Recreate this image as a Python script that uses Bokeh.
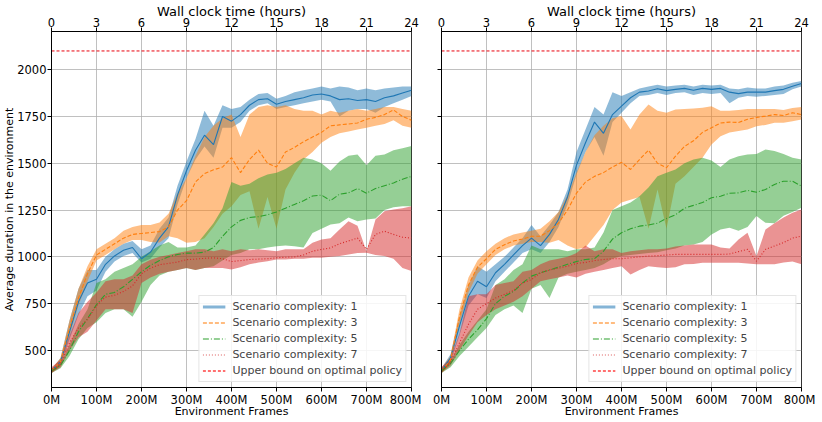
from bokeh.plotting import figure
from bokeh.models import (Range1d, LinearAxis, FixedTicker, PrintfTickFormatter,
                          Legend, LegendItem)
from bokeh.layouts import row
from bokeh.embed import file_html
from bokeh.resources import INLINE

# ---------------- data ----------------
frames_m = list(range(0, 801, 20))          # environment frames, millions
frame_ticks = [0, 100, 200, 300, 400, 500, 600, 700, 800]
hour_ticks = [0, 3, 6, 9, 12, 15, 18, 21, 24]
y_ticks = [500, 750, 1000, 1250, 1500, 1750, 2000]
upper_bound = 2100
series_labels = ["Scenario complexity: 1", "Scenario complexity: 3",
                 "Scenario complexity: 5", "Scenario complexity: 7"]
bound_label = "Upper bound on optimal policy"

# left panel
L_c1_mean = [390,440,600,760,860,880,960,1005,1035,1050,990,1025,1100,1160,1330,1460,1570,1650,1600,1750,1725,1760,1810,1840,1845,1815,1830,1840,1850,1865,1870,1860,1840,1845,1835,1840,1830,1850,1860,1875,1890]
L_c1_lo = [380,420,560,690,790,820,920,975,1005,1020,970,990,1050,1100,1280,1420,1520,1590,1530,1690,1690,1720,1780,1810,1820,1790,1800,1810,1820,1830,1840,1830,1750,1780,1790,1790,1770,1800,1820,1840,1860]
L_c1_hi = [400,460,660,830,930,930,1000,1040,1070,1085,1040,1060,1150,1210,1380,1510,1630,1780,1700,1810,1790,1800,1840,1870,1875,1845,1860,1880,1890,1900,1910,1900,1910,1905,1890,1900,1890,1900,1905,1910,1910]

L_c3_mean = [390,440,620,780,910,1010,1040,1070,1100,1120,1125,1130,1135,1160,1250,1300,1400,1445,1465,1480,1530,1450,1520,1570,1500,1480,1560,1585,1615,1640,1665,1700,1705,1710,1715,1735,1745,1760,1785,1750,1730]
L_c3_lo = [380,420,580,740,870,980,1010,1040,1070,1090,1090,1080,1077,1110,1100,1075,1080,1100,1160,1230,1270,1330,1350,1150,1320,1150,1360,1450,1520,1560,1610,1640,1660,1670,1680,1690,1700,1710,1730,1700,1690]
L_c3_hi = [400,460,660,830,950,1040,1070,1100,1140,1160,1170,1170,1184,1230,1340,1420,1540,1640,1700,1740,1760,1640,1760,1800,1810,1800,1810,1790,1780,1780,1760,1780,1770,1780,1790,1780,1790,1800,1800,1790,1780]

L_c5_mean = [390,420,500,600,670,745,800,810,840,880,920,955,980,1000,1013,1020,1020,1025,1050,1110,1160,1195,1210,1215,1225,1240,1260,1280,1300,1325,1330,1300,1335,1342,1365,1340,1365,1380,1395,1415,1430]
L_c5_lo = [380,405,470,560,620,650,700,720,720,680,760,850,900,920,930,940,930,940,950,980,1010,1020,1040,1040,1050,1057,1060,1057,1050,1128,1150,1173,1180,1210,1190,1200,1205,1250,1265,1271,1271]
L_c5_hi = [400,430,530,640,720,860,880,920,940,960,1000,1030,1060,1080,1050,1050,1060,1120,1180,1260,1400,1380,1390,1420,1440,1450,1470,1500,1530,1520,1500,1460,1510,1540,1547,1490,1540,1547,1570,1580,1592]

L_c7_mean = [390,430,540,620,665,740,785,795,815,845,910,940,958,965,972,985,988,992,995,990,975,980,986,988,990,995,998,1000,1010,1030,1040,1048,1070,1085,1100,1040,1120,1137,1120,1105,1100]
L_c7_lo = [380,410,500,570,600,660,720,720,720,700,860,890,910,920,930,940,930,940,940,940,933,945,960,970,977,986,986,990,990,995,995,1000,1005,1013,1020,1022,1010,1004,990,940,925]
L_c7_hi = [410,450,580,700,760,810,870,880,880,900,960,985,1000,1010,1020,1030,1040,1040,1030,1040,1030,1040,1035,1040,1035,1030,1040,1040,1040,1075,1093,1100,1146,1190,1166,1030,1200,1244,1253,1260,1270]

# right panel
R_c1_mean = [390,460,630,790,870,840,915,960,1010,1060,1100,1060,1120,1200,1320,1490,1610,1720,1660,1760,1805,1850,1880,1886,1898,1888,1895,1900,1890,1900,1895,1900,1880,1872,1880,1880,1880,1888,1895,1912,1926]
R_c1_lo = [380,440,580,740,800,780,870,920,970,1020,1040,1020,1080,1160,1280,1440,1560,1640,1540,1720,1770,1820,1860,1865,1875,1865,1875,1880,1865,1875,1870,1875,1820,1850,1860,1855,1860,1865,1870,1895,1910]
R_c1_hi = [405,480,680,850,950,920,960,1000,1050,1100,1170,1110,1170,1240,1360,1560,1680,1800,1760,1880,1860,1880,1900,1910,1920,1910,1915,1920,1910,1920,1915,1920,1900,1895,1905,1900,1900,1910,1915,1930,1940]

R_c3_mean = [390,450,680,850,945,990,1040,1065,1085,1095,1110,1110,1140,1180,1250,1340,1400,1430,1450,1480,1505,1467,1520,1570,1500,1476,1538,1590,1620,1665,1690,1715,1720,1718,1735,1745,1752,1760,1755,1770,1760]
R_c3_lo = [380,430,640,810,910,960,1010,1040,1060,1070,1080,1080,1075,1090,1060,1040,1050,1110,1170,1250,1290,1305,1320,1150,1360,1150,1390,1430,1480,1530,1600,1645,1665,1672,1680,1698,1705,1716,1716,1725,1734]
R_c3_hi = [405,470,720,890,980,1030,1070,1100,1120,1130,1140,1150,1190,1240,1330,1450,1560,1650,1700,1740,1752,1680,1761,1814,1780,1770,1787,1790,1792,1796,1805,1780,1780,1785,1790,1790,1790,1790,1785,1795,1800]

R_c5_mean = [390,430,500,560,610,670,750,790,815,860,897,915,930,945,960,975,986,990,1030,1095,1129,1150,1164,1170,1180,1205,1225,1260,1275,1290,1316,1324,1340,1342,1355,1345,1360,1387,1404,1404,1378]
R_c5_lo = [380,410,470,520,570,620,690,720,740,700,830,850,780,890,910,920,930,940,960,990,1004,1010,1015,1020,1025,1035,1045,1060,1066,1080,1120,1146,1155,1140,1160,1218,1182,1180,1220,1240,1262]
R_c5_hi = [400,445,530,600,660,720,850,880,930,960,1060,1040,1040,1040,1030,1040,1040,1050,1130,1250,1271,1290,1324,1370,1430,1450,1467,1500,1520,1530,1515,1480,1520,1538,1547,1550,1574,1565,1550,1530,1520]

R_c7_mean = [390,440,540,640,720,750,780,800,820,860,879,915,930,940,950,965,970,980,986,990,990,995,1000,1004,1006,1010,1013,1013,1013,1013,1013,1013,1015,1028,1040,977,1040,1058,1076,1100,1111]
R_c7_lo = [380,420,500,580,650,690,720,740,760,790,830,870,880,890,900,890,910,920,930,940,950,906,930,950,945,941,945,960,962,968,968,968,968,968,965,960,960,960,970,975,960]
R_c7_hi = [410,460,590,790,800,800,850,860,870,920,930,960,980,990,1000,1020,1060,1030,1040,1040,1020,1030,1035,1040,1040,1045,1055,1060,1066,1066,1066,1050,1045,1093,1129,1004,1146,1180,1210,1235,1253]

left_panel = [(L_c1_mean, L_c1_lo, L_c1_hi), (L_c3_mean, L_c3_lo, L_c3_hi),
              (L_c5_mean, L_c5_lo, L_c5_hi), (L_c7_mean, L_c7_lo, L_c7_hi)]
right_panel = [(R_c1_mean, R_c1_lo, R_c1_hi), (R_c3_mean, R_c3_lo, R_c3_hi),
               (R_c5_mean, R_c5_lo, R_c5_hi), (R_c7_mean, R_c7_lo, R_c7_hi)]

# ---------------- style ----------------
FONT = "DejaVu Sans"
colors = ["#1f77b4", "#ff7f0e", "#2ca02c", "#d62728"]
dashes = ["solid", "4 2", "6 2 1 2", "1 2"]
X0, X1 = 0, 800
Y0, Y1 = 302, 2204
FW, FH = 360, 356


def style_axis(ax, label_size="11.5px"):
    ax.major_label_text_font = FONT
    ax.major_label_text_font_size = label_size
    ax.major_label_text_color = "black"
    ax.axis_label_text_font = FONT
    ax.axis_label_text_font_style = "normal"
    ax.axis_label_text_color = "black"
    ax.axis_line_color = "black"
    ax.major_tick_line_color = "black"
    ax.major_tick_out = 4
    ax.major_tick_in = 0
    ax.minor_tick_out = 0
    ax.minor_tick_in = 0
    ax.major_label_standoff = 1


def make_panel(panel, first):
    p = figure(frame_width=FW, frame_height=FH, output_backend="svg",
               toolbar_location=None, x_range=Range1d(X0, X1), y_range=Range1d(Y0, Y1),
               min_border_left=40 if first else 20, min_border_right=10 if first else 14,
               min_border_top=20, min_border_bottom=20)
    p.background_fill_color = "white"
    p.border_fill_color = "white"
    p.outline_line_color = "#333333"
    p.outline_line_width = 1

    # bands then mean lines
    for i, (m, lo, hi) in enumerate(panel):
        p.varea(x=frames_m, y1=lo, y2=hi, fill_color=colors[i], fill_alpha=0.5)
    for i, (m, lo, hi) in enumerate(panel):
        p.line(frames_m, m, line_color=colors[i], line_width=1.1, line_dash=dashes[i])
    p.line([frames_m[0], frames_m[-1]], [upper_bound, upper_bound],
           line_color="#e8000b", line_width=1, line_dash="3 2")

    # legend proxies: one-point lines (draw nothing) carrying the legend styles
    px = [frames_m[0]]
    proxies = [
        p.line(px, [panel[0][0][0]], line_color=colors[0], line_width=3, line_alpha=0.55),
        p.line(px, [panel[1][0][0]], line_color=colors[1], line_width=1.5, line_alpha=0.7, line_dash="4 2"),
        p.line(px, [panel[2][0][0]], line_color=colors[2], line_width=1.2, line_alpha=1.0, line_dash="6 2 1 2"),
        p.line(px, [panel[3][0][0]], line_color=colors[3], line_width=1.5, line_alpha=0.5, line_dash="1 2"),
        p.line(px, [upper_bound], line_color="#ff0000", line_width=1.5, line_alpha=0.75, line_dash="3 2"),
    ]
    items = [LegendItem(label=lab, renderers=[r], index=0) for lab, r in
             zip(series_labels + [bound_label], proxies)]
    leg = Legend(items=items, location="bottom_right", margin=5, padding=3,
                 spacing=1, label_height=15, glyph_height=15, glyph_width=23,
                 label_standoff=7, label_text_font=FONT, label_text_font_size="11px",
                 border_line_color="#cccccc", border_line_width=1,
                 background_fill_alpha=0.85)
    p.add_layout(leg, "center")

    # bottom / left axes
    p.xaxis.ticker = FixedTicker(ticks=frame_ticks)
    p.xaxis.formatter = PrintfTickFormatter(format="%dM")
    p.xaxis.axis_label = "Environment Frames"
    p.yaxis.ticker = FixedTicker(ticks=y_ticks)
    style_axis(p.xaxis[0])
    style_axis(p.yaxis[0])
    p.xaxis.axis_label_text_font_size = "11px"
    p.xaxis.axis_label_standoff = -5
    if first:
        p.yaxis.axis_label = "Average duration in the environment"
        p.yaxis.axis_label_text_font_size = "11px"
        p.yaxis.axis_label_standoff = -2
    else:
        p.yaxis.major_label_overrides = {t: "" for t in y_ticks}
        p.yaxis.major_label_standoff = 0

    # top axis: wall-clock hours
    p.extra_x_ranges = {"hours": Range1d(hour_ticks[0], hour_ticks[-1])}
    top = LinearAxis(x_range_name="hours", ticker=FixedTicker(ticks=hour_ticks),
                     axis_label="Wall clock time (hours)")
    style_axis(top)
    top.axis_label_text_font_size = "13px"
    top.axis_label_standoff = -4
    p.add_layout(top, "above")

    # grid
    p.xgrid.ticker = FixedTicker(ticks=frame_ticks)
    p.ygrid.ticker = FixedTicker(ticks=y_ticks)
    for g in (p.xgrid[0], p.ygrid[0]):
        g.grid_line_color = "#b0b0b0"
        g.grid_line_width = 0.8
    return p


p1 = make_panel(left_panel, True)
p2 = make_panel(right_panel, False)
layout = row(p1, p2)

open("out.html", "w").write(file_html(layout, INLINE))
